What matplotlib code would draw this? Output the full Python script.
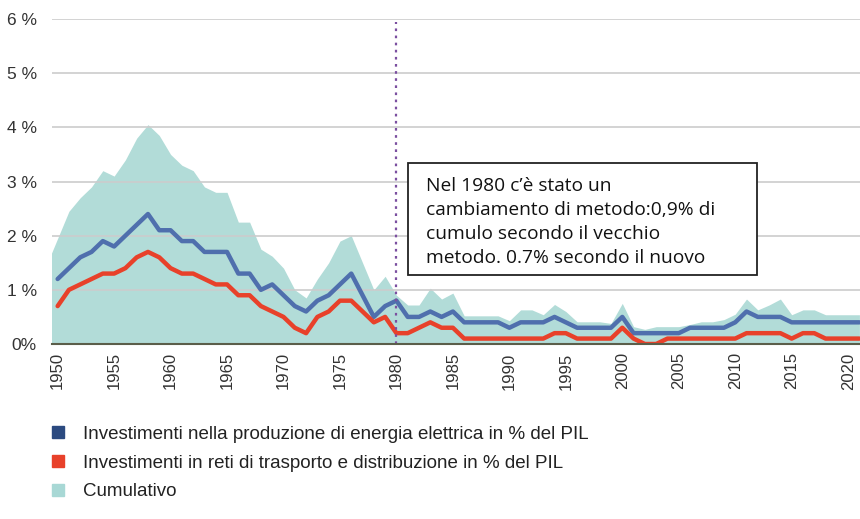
import numpy as np
import matplotlib
matplotlib.use("Agg")
import matplotlib.pyplot as plt
from matplotlib.lines import Line2D
from matplotlib.patches import Rectangle

years = np.arange(1950, 2022)

produzione = [1.2, 1.4, 1.6, 1.7, 1.9, 1.8, 2.0, 2.2, 2.4, 2.1,
              2.1, 1.9, 1.9, 1.7, 1.7, 1.7, 1.3, 1.3, 1.0, 1.1,
              0.9, 0.7, 0.6, 0.8, 0.9, 1.1, 1.3, 0.9, 0.5, 0.7,
              0.8, 0.5, 0.5, 0.6, 0.5, 0.6, 0.4, 0.4, 0.4, 0.4,
              0.3, 0.4, 0.4, 0.4, 0.5, 0.4, 0.3, 0.3, 0.3, 0.3,
              0.5, 0.2, 0.2, 0.2, 0.2, 0.2, 0.3, 0.3, 0.3, 0.3,
              0.4, 0.6, 0.5, 0.5, 0.5, 0.4, 0.4, 0.4, 0.4, 0.4,
              0.4, 0.4]

reti = [0.7, 1.0, 1.1, 1.2, 1.3, 1.3, 1.4, 1.6, 1.7, 1.6,
        1.4, 1.3, 1.3, 1.2, 1.1, 1.1, 0.9, 0.9, 0.7, 0.6,
        0.5, 0.3, 0.2, 0.5, 0.6, 0.8, 0.8, 0.6, 0.4, 0.5,
        0.2, 0.2, 0.3, 0.4, 0.3, 0.3, 0.1, 0.1, 0.1, 0.1,
        0.1, 0.1, 0.1, 0.1, 0.2, 0.2, 0.1, 0.1, 0.1, 0.1,
        0.3, 0.1, 0.0, 0.0, 0.1, 0.1, 0.1, 0.1, 0.1, 0.1,
        0.1, 0.2, 0.2, 0.2, 0.2, 0.1, 0.2, 0.2, 0.1, 0.1,
        0.1, 0.1]

# cumulative area starts at the left edge of the axis (value read there too)
cum_years = np.arange(1949, 2022)
cumulativo = [1.45,
              1.95, 2.45, 2.7, 2.9, 3.2, 3.1, 3.4, 3.8, 4.05, 3.85,
              3.5, 3.3, 3.2, 2.9, 2.8, 2.8, 2.25, 2.25, 1.75, 1.62,
              1.4, 1.0, 0.85, 1.2, 1.5, 1.9, 2.0, 1.5, 1.0, 1.25,
              0.9, 0.72, 0.72, 1.03, 0.83, 0.94, 0.52, 0.52, 0.52, 0.52,
              0.43, 0.63, 0.63, 0.54, 0.73, 0.6, 0.41, 0.41, 0.41, 0.38,
              0.75, 0.32, 0.27, 0.32, 0.32, 0.32, 0.36, 0.41, 0.41, 0.45,
              0.55, 0.83, 0.63, 0.72, 0.83, 0.54, 0.63, 0.63, 0.54, 0.54,
              0.54, 0.54]

yticks = [0, 1, 2, 3, 4, 5, 6]
ytick_labels = ["0%", "1 %", "2 %", "3 %", "4 %", "5 %", "6 %"]
xticks = list(range(1950, 2021, 5))

labels = ["Investimenti nella produzione di energia elettrica in % del PIL",
          "Investimenti in reti di trasporto e distribuzione in % del PIL",
          "Cumulativo"]
note = ("Nel 1980 c\u2019\u00e8 stato un\n"
        "cambiamento di metodo:0,9% di\n"
        "cumulo secondo il vecchio\n"
        "metodo. 0.7% secondo il nuovo")

col_fill = "#b2dcd8"
col_blue = "#4f6fad"
col_red = "#e8412a"

plt.rcParams["font.family"] = ["Liberation Sans", "DejaVu Sans"]

fig = plt.figure(figsize=(8.6, 5.19), dpi=100)
ax = fig.add_axes([52 / 860, 1 - 344 / 519, 808 / 860, 325 / 519])

ax.fill_between(cum_years, cumulativo, 0, color=col_fill, linewidth=0, zorder=1)
ax.plot(years, produzione, color=col_blue, linewidth=3.2, zorder=3,
        solid_joinstyle="round", solid_capstyle="round")
ax.plot(years, reti, color=col_red, linewidth=3.2, zorder=3,
        solid_joinstyle="round", solid_capstyle="round")

ax.axvline(1980, ymin=0, ymax=0.99, color="#7b4fa0", linestyle=(0, (1.2, 2.0)),
           linewidth=1.6, zorder=4)

ax.set_xlim(1949.5, 2021.05)
ax.set_ylim(0, 6)
ax.set_yticks(yticks)
ax.set_yticklabels(ytick_labels, fontsize=12.5, color="#333333")
ax.set_xticks(xticks)
ax.set_xticklabels([str(x) for x in xticks], rotation=90, fontsize=12, color="#333333")
ax.tick_params(length=0)
ax.tick_params(axis="y", pad=11)
ax.tick_params(axis="x", pad=6)

ax.set_axisbelow(False)
ax.yaxis.grid(True, color="#cccccc", linewidth=1.2)
ax.xaxis.grid(False)
for s in ["top", "right", "left"]:
    ax.spines[s].set_visible(False)
ax.spines["bottom"].set_color("#5b5e4a")
ax.spines["bottom"].set_linewidth(1.5)
ax.spines["bottom"].set_zorder(5)

# annotation box
ax.add_patch(Rectangle((1981.0, 1.27), 30.9, 2.07, facecolor="white",
                       edgecolor="#222222", linewidth=1.3, zorder=6))
ax.text(1982.6, 3.08, note, fontsize=13.8, family=["Open Sans", "DejaVu Sans"],
        va="top", ha="left", linespacing=1.42, color="#111111", zorder=7)

handles = [Line2D([], [], marker="s", linestyle="none", markersize=8, color=c)
           for c in ["#2b4a80", col_red, "#a8d8d5"]]
fig.legend(handles, labels, loc="upper left", bbox_to_anchor=(22 / 860, 1 - 409 / 519),
           frameon=False, labelspacing=0.62, handletextpad=0.35,
           prop={"family": ["Liberation Sans Narrow", "Liberation Sans"], "size": 13.5},
           labelcolor="#222222")

fig.savefig("out.png", dpi=100)
